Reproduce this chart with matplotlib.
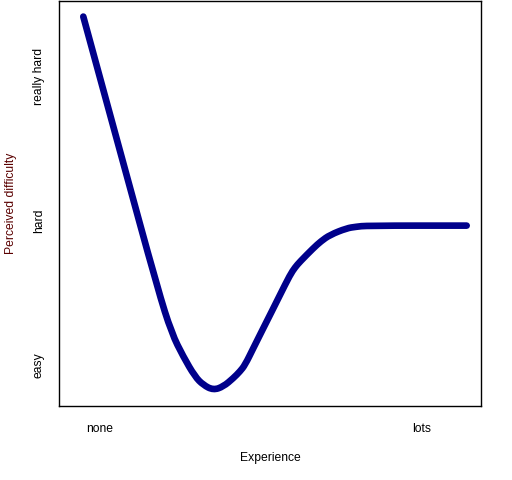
import matplotlib
matplotlib.use("Agg")
import matplotlib.pyplot as plt
from matplotlib.path import Path
from matplotlib.patches import PathPatch

plt.rcParams['font.family'] = ['Liberation Sans', 'DejaVu Sans']

# experience (0 = none, 1 = lots) vs perceived difficulty (1 = easy .. 3 = really hard)
experience = [-0.0519, 0.0640, 0.1801, 0.2227, 0.2587, 0.2950, 0.3208, 0.3519,
              0.3829, 0.4140, 0.4348, 0.4503, 0.4761, 0.5071, 0.5332, 0.5590,
              0.5901, 0.6056, 0.6211, 0.6624, 0.6863, 0.7143, 0.7661, 0.7950,
              0.8283, 1.1388]
difficulty = [3.410, 2.466, 1.522, 1.222, 1.061, 0.923, 0.865, 0.830,
              0.854, 0.912, 0.959, 1.003, 1.119, 1.257, 1.372, 1.487,
              1.625, 1.677, 1.717, 1.810, 1.858, 1.902, 1.948, 1.958,
              1.966, 1.966]

x_ticks = [0, 1]
x_labels = ["none", "lots"]
y_ticks = [1, 2, 3]
y_labels = ["easy", "hard", "really hard"]

fig = plt.figure(figsize=(5.12, 4.8), dpi=100)
ax = fig.add_axes([0.1162, 0.1542, 0.8242, 0.8438])

# smooth the polyline: each inner point is a quadratic control point,
# the curve runs through the midpoints between neighbours
pts = list(zip(experience, difficulty))
verts = [pts[0]]
codes = [Path.MOVETO]
for i in range(1, len(pts) - 1):
    mx = (pts[i][0] + pts[i + 1][0]) / 2
    my = (pts[i][1] + pts[i + 1][1]) / 2
    verts += [pts[i], (mx, my)]
    codes += [Path.CURVE3, Path.CURVE3]
verts.append(pts[-1])
codes.append(Path.LINETO)

curve = PathPatch(Path(verts, codes), fill=False, edgecolor="#00008B", lw=4.8,
                  capstyle="round", joinstyle="round")
ax.add_patch(curve)

ax.set_xlim(-0.1258, 1.1848)
ax.set_ylim(0.720, 3.518)

ax.set_xticks(x_ticks)
ax.set_xticklabels(x_labels)
ax.set_yticks(y_ticks)
ax.set_yticklabels(y_labels, rotation=90, va="center")
ax.tick_params(axis="x", length=0, pad=12.5, labelsize=8.7)
ax.tick_params(axis="y", length=0, pad=10.5, labelsize=8.7)

for s in ax.spines.values():
    s.set_linewidth(1.0)
    s.set_color("black")

ax.set_xlabel("Experience", fontsize=8.7)
ax.set_ylabel("Perceived difficulty", fontsize=8.7, color="#5a0000")
ax.xaxis.set_label_coords(0.5, -0.113)
ax.yaxis.set_label_coords(-0.100, 0.5)

fig.savefig("out.png", dpi=100)
